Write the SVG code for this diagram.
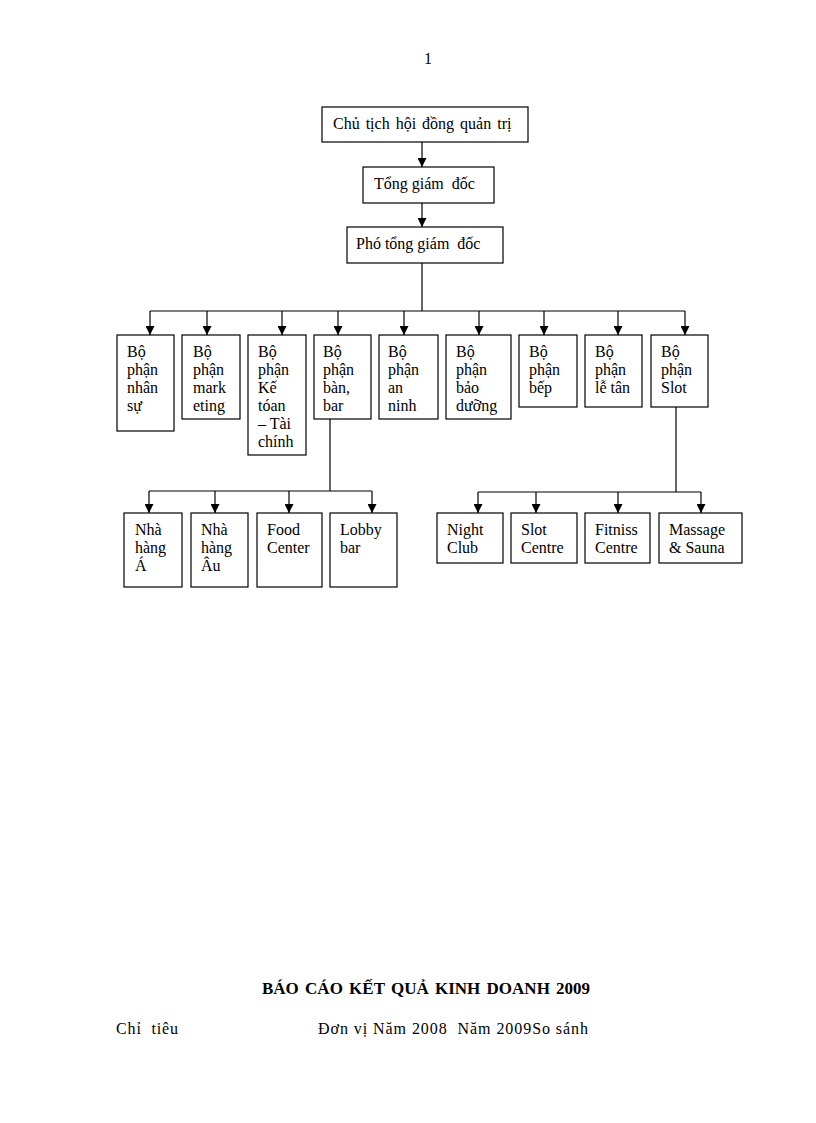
<svg xmlns="http://www.w3.org/2000/svg" width="816" height="1123" viewBox="0 0 816 1123">
<style>
.b{fill:#fff;stroke:#000;stroke-width:1.2}
.t{font-family:"Liberation Serif","Times New Roman",serif;font-size:16px;fill:#000}
.c{fill:none;stroke:#000;stroke-width:1.2}
.h{font-family:"Liberation Serif","Times New Roman",serif;font-size:17px;font-weight:bold;fill:#000}
</style>
<defs>
<marker id="ar" viewBox="0 0 10 10" refX="10" refY="5" markerWidth="10" markerHeight="9" markerUnits="userSpaceOnUse" orient="auto">
<path d="M0,0 L10,5 L0,10 Z" fill="#000"/>
</marker>
</defs>
<rect width="816" height="1123" fill="#fff"/>
<text class="t" x="424" y="64">1</text>

<g id="connectors">
<path class="c" d="M422,142 V167" marker-end="url(#ar)"/>
<path class="c" d="M422,203 V227" marker-end="url(#ar)"/>
<path class="c" d="M422,263 V311"/>
<path class="c" d="M150,311 H685"/>
<path class="c" d="M150,311 V335" marker-end="url(#ar)"/>
<path class="c" d="M207,311 V335" marker-end="url(#ar)"/>
<path class="c" d="M282,311 V335" marker-end="url(#ar)"/>
<path class="c" d="M338,311 V335" marker-end="url(#ar)"/>
<path class="c" d="M404,311 V335" marker-end="url(#ar)"/>
<path class="c" d="M479,311 V335" marker-end="url(#ar)"/>
<path class="c" d="M544,311 V335" marker-end="url(#ar)"/>
<path class="c" d="M618,311 V335" marker-end="url(#ar)"/>
<path class="c" d="M685,311 V335" marker-end="url(#ar)"/>
<path class="c" d="M330,419 V491"/>
<path class="c" d="M149,491 H372"/>
<path class="c" d="M149,491 V513" marker-end="url(#ar)"/>
<path class="c" d="M215,491 V513" marker-end="url(#ar)"/>
<path class="c" d="M289,491 V513" marker-end="url(#ar)"/>
<path class="c" d="M372,491 V513" marker-end="url(#ar)"/>
<path class="c" d="M676,407 V492"/>
<path class="c" d="M478,492 H701"/>
<path class="c" d="M478,492 V513" marker-end="url(#ar)"/>
<path class="c" d="M536,492 V513" marker-end="url(#ar)"/>
<path class="c" d="M618,492 V513" marker-end="url(#ar)"/>
<path class="c" d="M701,492 V513" marker-end="url(#ar)"/>
</g>

<g id="chu-tich"><rect class="b" x="322" y="107" width="206" height="35"/><text class="t" x="333" y="129" word-spacing="2">Chủ tịch hội đồng quản trị</text></g>
<g id="tong-giam-doc"><rect class="b" x="363" y="167" width="131" height="36"/><text class="t" x="374" y="189" xml:space="preserve">Tổng giám  đốc</text></g>
<g id="pho-tong-giam-doc"><rect class="b" x="347" y="227" width="156" height="36"/><text class="t" x="356" y="249" xml:space="preserve">Phó tổng giám  đốc</text></g>

<g id="nhan-su"><rect class="b" x="117" y="335" width="57" height="96"/><text class="t"><tspan x="127" y="357">Bộ</tspan><tspan x="127" y="375">phận</tspan><tspan x="127" y="393">nhân</tspan><tspan x="127" y="411">sự</tspan></text></g>
<g id="marketing"><rect class="b" x="182" y="335" width="58" height="84"/><text class="t"><tspan x="193" y="357">Bộ</tspan><tspan x="193" y="375">phận</tspan><tspan x="193" y="393">mark</tspan><tspan x="193" y="411">eting</tspan></text></g>
<g id="ke-toan"><rect class="b" x="248" y="335" width="58" height="120"/><text class="t"><tspan x="258" y="357">Bộ</tspan><tspan x="258" y="375">phận</tspan><tspan x="258" y="393">Kế</tspan><tspan x="258" y="411">tóan</tspan><tspan x="258" y="429">– Tài</tspan><tspan x="258" y="447">chính</tspan></text></g>
<g id="ban-bar"><rect class="b" x="314" y="335" width="57" height="84"/><text class="t"><tspan x="323" y="357">Bộ</tspan><tspan x="323" y="375">phận</tspan><tspan x="323" y="393">bàn,</tspan><tspan x="323" y="411">bar</tspan></text></g>
<g id="an-ninh"><rect class="b" x="379" y="335" width="59" height="84"/><text class="t"><tspan x="388" y="357">Bộ</tspan><tspan x="388" y="375">phận</tspan><tspan x="388" y="393">an</tspan><tspan x="388" y="411">ninh</tspan></text></g>
<g id="bao-duong"><rect class="b" x="446" y="335" width="65" height="84"/><text class="t"><tspan x="456" y="357">Bộ</tspan><tspan x="456" y="375">phận</tspan><tspan x="456" y="393">bảo</tspan><tspan x="456" y="411">dưỡng</tspan></text></g>
<g id="bep"><rect class="b" x="519" y="335" width="58" height="72"/><text class="t"><tspan x="529" y="357">Bộ</tspan><tspan x="529" y="375">phận</tspan><tspan x="529" y="393">bếp</tspan></text></g>
<g id="le-tan"><rect class="b" x="585" y="335" width="57" height="72"/><text class="t"><tspan x="595" y="357">Bộ</tspan><tspan x="595" y="375">phận</tspan><tspan x="595" y="393">lễ tân</tspan></text></g>
<g id="slot"><rect class="b" x="651" y="335" width="57" height="72"/><text class="t"><tspan x="661" y="357">Bộ</tspan><tspan x="661" y="375">phận</tspan><tspan x="661" y="393">Slot</tspan></text></g>

<g id="nha-hang-a"><rect class="b" x="124" y="513" width="58" height="74"/><text class="t"><tspan x="135" y="535">Nhà</tspan><tspan x="135" y="553">hàng</tspan><tspan x="135" y="571">Á</tspan></text></g>
<g id="nha-hang-au"><rect class="b" x="191" y="513" width="57" height="74"/><text class="t"><tspan x="201" y="535">Nhà</tspan><tspan x="201" y="553">hàng</tspan><tspan x="201" y="571">Âu</tspan></text></g>
<g id="food-center"><rect class="b" x="257" y="513" width="65" height="74"/><text class="t"><tspan x="267" y="535">Food</tspan><tspan x="267" y="553">Center</tspan></text></g>
<g id="lobby-bar"><rect class="b" x="330" y="513" width="67" height="74"/><text class="t"><tspan x="340" y="535">Lobby</tspan><tspan x="340" y="553">bar</tspan></text></g>

<g id="night-club"><rect class="b" x="437" y="513" width="66" height="50"/><text class="t"><tspan x="447" y="535">Night</tspan><tspan x="447" y="553">Club</tspan></text></g>
<g id="slot-centre"><rect class="b" x="511" y="513" width="66" height="50"/><text class="t"><tspan x="521" y="535">Slot</tspan><tspan x="521" y="553">Centre</tspan></text></g>
<g id="fitniss-centre"><rect class="b" x="585" y="513" width="65" height="50"/><text class="t"><tspan x="595" y="535">Fitniss</tspan><tspan x="595" y="553">Centre</tspan></text></g>
<g id="massage-sauna"><rect class="b" x="659" y="513" width="83" height="50"/><text class="t"><tspan x="669" y="535">Massage</tspan><tspan x="669" y="553">&amp; Sauna</tspan></text></g>

<text class="h" x="262" y="994" word-spacing="2">BÁO CÁO KẾT QUẢ KINH DOANH 2009</text>
<text class="t" x="116" y="1034" xml:space="preserve" textLength="62" lengthAdjust="spacing">Chỉ  tiêu</text>
<text class="t" x="318" y="1034" xml:space="preserve" textLength="270" lengthAdjust="spacing">Đơn vị Năm 2008  Năm 2009So sánh</text>
</svg>
